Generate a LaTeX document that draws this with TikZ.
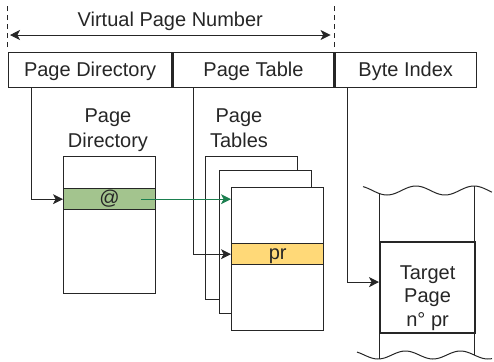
\documentclass[tikz,border=0pt]{standalone}
\usepackage{fontspec}
\setmainfont{Liberation Sans}
\usetikzlibrary{arrows.meta,positioning}
\definecolor{ink}{HTML}{262626}
\definecolor{dirgreen}{HTML}{A3C48E}
\definecolor{ptyellow}{HTML}{FFD978}
\definecolor{linkgreen}{HTML}{1B7F4F}
\begin{document}
\begin{tikzpicture}[x=0.5pt,y=-0.5pt,
  every node/.style={text=ink,font=\fontsize{10}{12.5}\selectfont},
  field/.style={draw=ink,line width=0.65pt,minimum height=17.5pt,inner sep=0pt,text height=8pt,text depth=1.5pt,anchor=north west},
  pagebox/.style={draw=ink,fill=white,line width=0.65pt,minimum width=46pt,inner sep=0pt,anchor=north west},
  entry/.style={draw=ink,line width=0.65pt,minimum width=46pt,minimum height=10.5pt,inner sep=0pt,text height=7pt,text depth=1.5pt,anchor=north west},
  tip/.style={-{Stealth[length=5pt,width=5pt,inset=1.3pt]}},
  link/.style={ink,line width=0.5pt,tip},
  dashline/.style={ink,line width=0.5pt,dash pattern=on 2.5pt off 2pt}]
\useasboundingbox (0,0) rectangle (494,361);
% the address fields
\node[field,minimum width=81.5pt] (pdfield) at (8,52) {Page Directory};
\node[field,minimum width=80.5pt] (ptfield) at (pdfield.north east) {Page Table};
\node[field,minimum width=70.5pt] (bifield) at (ptfield.north east) {Byte Index};
\draw[dashline] (pdfield.north west) ++(0,-5) -- ++(0,-42);
\draw[dashline] (ptfield.north east) ++(0,-5) -- ++(0,-42);
\draw[ink,line width=0.5pt,{Stealth[length=5pt,width=5pt,inset=1.3pt]}-{Stealth[length=5pt,width=5pt,inset=1.3pt]}]
  ([xshift=1pt,yshift=8.5pt]pdfield.north west) -- node[above=2pt,inner sep=0pt] {Virtual Page Number}
  ([xshift=-2pt,yshift=8.5pt]ptfield.north east);
% page directory
\node[pagebox,minimum height=68.5pt] (dirbox) at (63,156) {};
\node[entry,fill=dirgreen] (direntry) at (63,188) {@};
\node[align=center,inner sep=0pt,anchor=south,text depth=0pt] (dirlabel) at (108,148) {Page\\Directory};
% page tables
\node[pagebox,minimum height=71.5pt] (ptback) at (205,156) {};
\node[pagebox,minimum height=71.5pt] (ptmid) at (219,170) {};
\node[pagebox,minimum height=71.5pt] (ptfront) at (231,187) {};
\node[entry,fill=ptyellow] (ptentry) at (231,243) {pr};
\node[align=center,inner sep=0pt,anchor=south,text depth=0pt] (ptlabel) at (239,148) {Page\\Tables};
% target page in memory
\draw[ink,line width=0.5pt] plot[domain=363:492,samples=60,smooth] (\x,{190.5+4.5*cos(6.2069*(\x-387))});
\draw[ink,line width=0.5pt] plot[domain=357:492,samples=60,smooth] (\x,{355+4*cos(6.5455*(\x-378))});
\draw[ink,line width=0.5pt] (379,193.4) -- (379,359);
\draw[ink,line width=0.5pt] (474,186) -- (474,355);
\node[draw=ink,fill=white,line width=1.1pt,minimum width=47.5pt,minimum height=45.5pt,anchor=north west,
  align=center,inner sep=0pt,text height=40pt,text depth=1.5pt,font=\fontsize{10}{11.75}\selectfont] (target) at (379,241) {Target\\Page\\n° pr};
% connectors
\draw[link] ([xshift=11.5pt]pdfield.south west) |- (direntry.west);
\draw[link] ([xshift=10.5pt]ptfield.south west) |- (ptentry.west);
\draw[link] ([xshift=6.5pt]bifield.south west) |- ([yshift=2.75pt]target.west);
\draw[linkgreen,line width=0.5pt,tip] ([xshift=-7.5pt]direntry.east) -- (direntry.east -| ptfront.west);
\end{tikzpicture}
\end{document}
